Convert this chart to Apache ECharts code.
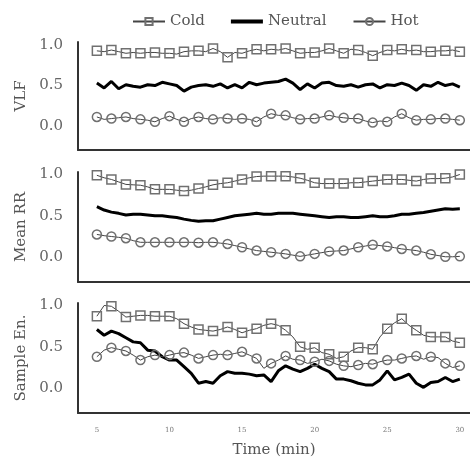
<!DOCTYPE html>
<html><head><meta charset="utf-8">
<script src="https://cdn.jsdelivr.net/npm/echarts@6/dist/echarts.min.js"></script>
<style>html,body{margin:0;padding:0;background:#fff}#c{width:470px;height:459px}</style>
</head><body><div id="c"></div>
<script>
// time in minutes, half-minute steps
var time = [5,5.5,6,6.5,7,7.5,8,8.5,9,9.5,10,10.5,11,11.5,12,12.5,13,13.5,14,14.5,15,15.5,16,16.5,17,17.5,18,18.5,19,19.5,20,20.5,21,21.5,22,22.5,23,23.5,24,24.5,25,25.5,26,26.5,27,27.5,28,28.5,29,29.5,30];
var xTicks = [5,10,15,20,25,30];
var yTicks = [0,0.5,1];
var legendNames = ['Cold','Neutral','Hot'];
var panelNames = ['VLF','Mean RR','Sample En.'];

var vlfCold = [0.93,0.92,0.94,0.92,0.90,0.91,0.90,0.91,0.91,0.90,0.90,0.89,0.92,0.93,0.93,0.92,0.96,0.92,0.85,0.91,0.90,0.93,0.95,0.93,0.95,0.94,0.96,0.93,0.90,0.91,0.91,0.93,0.96,0.93,0.90,0.95,0.94,0.91,0.87,0.91,0.94,0.93,0.95,0.93,0.94,0.92,0.92,0.93,0.93,0.94,0.92];
var vlfNeutral = [0.53,0.47,0.55,0.46,0.51,0.49,0.48,0.51,0.50,0.54,0.52,0.50,0.43,0.48,0.50,0.51,0.49,0.52,0.47,0.51,0.47,0.54,0.51,0.53,0.54,0.55,0.58,0.53,0.45,0.52,0.47,0.53,0.54,0.50,0.49,0.51,0.48,0.51,0.52,0.47,0.51,0.50,0.53,0.50,0.44,0.51,0.49,0.54,0.50,0.52,0.48];
var vlfHot = [0.11,0.08,0.09,0.10,0.11,0.09,0.08,0.07,0.05,0.09,0.12,0.08,0.05,0.09,0.11,0.09,0.08,0.10,0.09,0.08,0.09,0.08,0.05,0.11,0.15,0.13,0.13,0.10,0.08,0.09,0.09,0.11,0.13,0.11,0.10,0.09,0.09,0.06,0.04,0.06,0.05,0.11,0.15,0.10,0.07,0.08,0.08,0.09,0.09,0.08,0.07];

var rrCold = [0.99,0.96,0.94,0.91,0.88,0.875,0.87,0.85,0.82,0.82,0.82,0.81,0.80,0.81,0.83,0.85,0.875,0.89,0.90,0.92,0.94,0.96,0.975,0.98,0.98,0.98,0.98,0.97,0.955,0.93,0.90,0.89,0.89,0.89,0.89,0.90,0.90,0.91,0.92,0.93,0.94,0.94,0.94,0.93,0.92,0.94,0.95,0.95,0.955,0.97,1.0];
var rrNeutral = [0.61,0.57,0.545,0.53,0.51,0.52,0.52,0.51,0.50,0.50,0.49,0.48,0.46,0.445,0.435,0.44,0.44,0.46,0.48,0.50,0.51,0.52,0.53,0.52,0.52,0.53,0.53,0.53,0.52,0.51,0.50,0.49,0.48,0.49,0.49,0.48,0.48,0.49,0.50,0.49,0.49,0.50,0.52,0.52,0.53,0.54,0.555,0.57,0.585,0.58,0.585];
var rrHot = [0.275,0.26,0.25,0.24,0.23,0.20,0.18,0.18,0.18,0.18,0.18,0.18,0.18,0.18,0.175,0.18,0.18,0.17,0.16,0.14,0.12,0.10,0.08,0.07,0.06,0.05,0.04,0.025,0.01,0.025,0.04,0.055,0.07,0.075,0.08,0.10,0.12,0.135,0.15,0.14,0.13,0.115,0.10,0.09,0.08,0.06,0.035,0.02,0.005,0.005,0.01];

var seCold = [0.87,1.0,0.99,0.93,0.86,0.87,0.88,0.88,0.87,0.87,0.87,0.84,0.78,0.74,0.71,0.70,0.69,0.71,0.74,0.71,0.67,0.70,0.72,0.76,0.78,0.76,0.70,0.62,0.50,0.47,0.49,0.43,0.41,0.36,0.38,0.45,0.49,0.49,0.47,0.62,0.72,0.79,0.84,0.76,0.70,0.64,0.62,0.62,0.62,0.57,0.55];
var seNeutral = [0.71,0.64,0.69,0.66,0.61,0.56,0.55,0.46,0.45,0.38,0.34,0.34,0.26,0.18,0.06,0.08,0.06,0.15,0.20,0.18,0.18,0.17,0.15,0.16,0.08,0.21,0.27,0.23,0.20,0.24,0.29,0.24,0.20,0.11,0.11,0.09,0.06,0.04,0.04,0.10,0.21,0.10,0.13,0.17,0.06,0.01,0.07,0.08,0.13,0.08,0.11];
var seHot = [0.38,0.46,0.49,0.47,0.45,0.40,0.34,0.38,0.40,0.38,0.40,0.42,0.43,0.40,0.36,0.38,0.40,0.41,0.40,0.42,0.44,0.40,0.36,0.24,0.30,0.34,0.39,0.35,0.34,0.30,0.32,0.35,0.33,0.29,0.27,0.26,0.28,0.30,0.29,0.32,0.34,0.34,0.36,0.38,0.39,0.35,0.38,0.37,0.30,0.25,0.27];

var panels = [[vlfCold,vlfNeutral,vlfHot],[rrCold,rrNeutral,rrHot],[seCold,seNeutral,seHot]];

var FONT = 'DejaVu Serif';
var grids = [
  {left:78, width:392, top:42, height:108},
  {left:78, width:392, top:172, height:110},
  {left:78, width:392, top:303, height:110}
];
var yMax = [1.04,1.03,1.03];
function pairs(v){ return time.map(function(t,i){ return [t, v[i]]; }); }
function markSize(val, p){ return p.dataIndex % 2 === 0 ? 9 : 0; }

var xAxes = [], yAxes = [], series = [];
for (var k=0;k<3;k++){
  var last = k===2;
  xAxes.push({
    gridIndex:k, type:'value', min:3.7, max:30.7,
    axisLine:{show:true, onZero:false, lineStyle:{color:'#333', width:2}},
    axisTick:{show:false}, splitLine:{show:false},
    axisLabel:{show:last, customValues:xTicks, color:'#777', fontFamily:FONT, fontSize:7, margin:14},
    name: last ? 'Time (min)' : '', nameLocation:'middle', nameGap:30,
    nameTextStyle:{color:'#555', fontFamily:FONT, fontSize:15}
  });
  yAxes.push({
    gridIndex:k, type:'value', min:-0.3, max:yMax[k],
    axisLine:{show:true, onZero:false, lineStyle:{color:'#333', width:2}},
    axisTick:{show:false}, splitLine:{show:false},
    axisLabel:{customValues:yTicks, color:'#666', fontFamily:FONT, fontSize:15, margin:15,
      formatter:function(v){ return v.toFixed(1); }},
    name:panelNames[k], nameLocation:'middle', nameGap:48,
    nameTextStyle:{color:'#555', fontFamily:FONT, fontSize:15}
  });
  var d = panels[k];
  series.push({
    name:'Cold', type:'line', xAxisIndex:k, yAxisIndex:k, data:pairs(d[0]),
    symbol:'rect', symbolSize:markSize, showAllSymbol:true,
    lineStyle:{color:'#444', width:1},
    itemStyle:{color:'rgba(255,255,255,0)', borderColor:'#707070', borderWidth:1.5},
    z:3, animation:false
  });
  series.push({
    name:'Neutral', type:'line', xAxisIndex:k, yAxisIndex:k, data:pairs(d[1]),
    symbol:'none', lineStyle:{color:'#000', width:3}, itemStyle:{color:'#000'},
    z:2, animation:false
  });
  series.push({
    name:'Hot', type:'line', xAxisIndex:k, yAxisIndex:k, data:pairs(d[2]),
    symbol:'circle', symbolSize:markSize, showAllSymbol:true,
    lineStyle:{color:'#444', width:1},
    itemStyle:{color:'rgba(255,255,255,0)', borderColor:'#707070', borderWidth:1.5},
    z:3, animation:false
  });
}

var chart = echarts.init(document.getElementById('c'), null, {renderer:'canvas'});
chart.setOption({
  animation:false,
  backgroundColor:'#fff',
  legend:{
    data:[
      {name:legendNames[0]},
      {name:legendNames[1], icon:'path://M0,0 L34,0 L34,4 L0,4 Z', itemStyle:{color:'#000'}},
      {name:legendNames[2]}
    ],
    left:127, top:9, itemWidth:32, itemHeight:9, itemGap:26,
    textStyle:{color:'#555', fontFamily:FONT, fontSize:15}},
  grid:grids, xAxis:xAxes, yAxis:yAxes, series:series
});
</script></body></html>
